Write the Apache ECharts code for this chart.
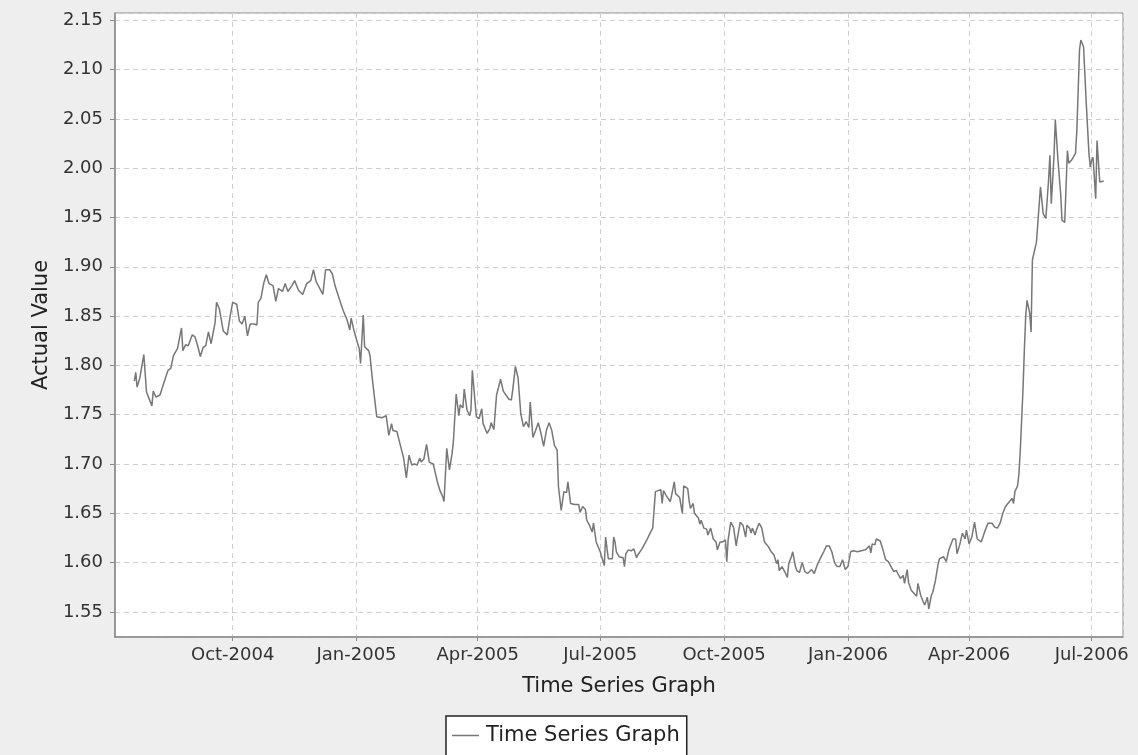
<!DOCTYPE html>
<html>
<head>
<meta charset="utf-8">
<title>Time Series Graph</title>
<script src="https://cdn.jsdelivr.net/npm/echarts@6/dist/echarts.min.js"></script>
<style>
  html, body { margin: 0; padding: 0; background: #eeeeee; }
  #main { width: 1138px; height: 755px; }
</style>
</head>
<body>
<div id="main"></div>
<script>
// values
var seriesName = 'Time Series Graph';

var dates = [
  '2004-07-20','2004-07-21','2004-07-22','2004-07-24','2004-07-27','2004-07-29','2004-08-02','2004-08-03','2004-08-05','2004-08-08',
  '2004-08-12','2004-08-14','2004-08-16','2004-08-18','2004-08-21','2004-08-24','2004-08-25','2004-08-27','2004-08-29','2004-09-01',
  '2004-09-03','2004-09-05','2004-09-07','2004-09-09','2004-09-11','2004-09-13','2004-09-15','2004-09-18','2004-09-19','2004-09-21',
  '2004-09-24','2004-09-27','2004-09-29','2004-10-01','2004-10-04','2004-10-06','2004-10-08','2004-10-10','2004-10-12','2004-10-14',
  '2004-10-17','2004-10-19','2004-10-20','2004-10-22','2004-10-23','2004-10-24','2004-10-26','2004-10-28','2004-10-31','2004-11-02',
  '2004-11-04','2004-11-07','2004-11-09','2004-11-11','2004-11-14','2004-11-16','2004-11-19','2004-11-22','2004-11-25','2004-11-28',
  '2004-11-30','2004-12-02','2004-12-07','2004-12-09','2004-12-12','2004-12-14','2004-12-16','2004-12-20','2004-12-22','2004-12-25',
  '2004-12-27','2004-12-28','2004-12-30','2005-01-01','2005-01-03','2005-01-04','2005-01-06','2005-01-07','2005-01-10','2005-01-11',
  '2005-01-13','2005-01-16','2005-01-20','2005-01-23','2005-01-25','2005-01-27','2005-01-28','2005-01-31','2005-02-02','2005-02-05',
  '2005-02-07','2005-02-09','2005-02-11','2005-02-13','2005-02-15','2005-02-17','2005-02-18','2005-02-20','2005-02-22','2005-02-24',
  '2005-02-27','2005-02-28','2005-03-02','2005-03-04','2005-03-06','2005-03-07','2005-03-09','2005-03-11','2005-03-13','2005-03-14',
  '2005-03-16','2005-03-18','2005-03-19','2005-03-21','2005-03-22','2005-03-24','2005-03-26','2005-03-27','2005-03-28','2005-03-31',
  '2005-04-02','2005-04-04','2005-04-05','2005-04-08','2005-04-10','2005-04-11','2005-04-13','2005-04-15','2005-04-18','2005-04-20',
  '2005-04-21','2005-04-24','2005-04-26','2005-04-27','2005-04-29','2005-05-01','2005-05-03','2005-05-05','2005-05-07','2005-05-09',
  '2005-05-10','2005-05-12','2005-05-14','2005-05-16','2005-05-18','2005-05-20','2005-05-22','2005-05-24','2005-05-26','2005-05-28',
  '2005-05-30','2005-05-31','2005-06-02','2005-06-04','2005-06-06','2005-06-07','2005-06-09','2005-06-12','2005-06-15','2005-06-16',
  '2005-06-18','2005-06-20','2005-06-21','2005-06-23','2005-06-25','2005-06-26','2005-06-28','2005-07-01','2005-07-04','2005-07-05',
  '2005-07-07','2005-07-10','2005-07-11','2005-07-12','2005-07-13','2005-07-15','2005-07-18','2005-07-19','2005-07-20','2005-07-22',
  '2005-07-24','2005-07-26','2005-07-28','2005-07-29','2005-08-01','2005-08-03','2005-08-05','2005-08-07','2005-08-09','2005-08-10',
  '2005-08-11','2005-08-13','2005-08-15','2005-08-16','2005-08-17','2005-08-19','2005-08-22','2005-08-23','2005-08-25','2005-08-26',
  '2005-08-29','2005-08-31','2005-09-01','2005-09-04','2005-09-05','2005-09-06','2005-09-08','2005-09-09','2005-09-12','2005-09-13',
  '2005-09-14','2005-09-16','2005-09-18','2005-09-19','2005-09-21','2005-09-23','2005-09-25','2005-09-26','2005-09-28','2005-09-30',
  '2005-10-02','2005-10-03','2005-10-04','2005-10-06','2005-10-08','2005-10-10','2005-10-11','2005-10-13','2005-10-15','2005-10-17',
  '2005-10-18','2005-10-20','2005-10-21','2005-10-22','2005-10-24','2005-10-25','2005-10-27','2005-10-29','2005-10-31','2005-11-03',
  '2005-11-05','2005-11-07','2005-11-09','2005-11-10','2005-11-11','2005-11-13','2005-11-15','2005-11-17','2005-11-18','2005-11-20',
  '2005-11-21','2005-11-23','2005-11-24','2005-11-26','2005-11-28','2005-11-30','2005-12-02','2005-12-03','2005-12-05','2005-12-07',
  '2005-12-09','2005-12-11','2005-12-14','2005-12-16','2005-12-18','2005-12-20','2005-12-22','2005-12-24','2005-12-26','2005-12-28',
  '2005-12-30','2006-01-01','2006-01-03','2006-01-05','2006-01-08','2006-01-11','2006-01-14','2006-01-15','2006-01-17','2006-01-18',
  '2006-01-19','2006-01-21','2006-01-22','2006-01-25','2006-01-27','2006-01-29','2006-01-31','2006-02-02','2006-02-04','2006-02-06',
  '2006-02-07','2006-02-09','2006-02-11','2006-02-12','2006-02-14','2006-02-15','2006-02-17','2006-02-19','2006-02-21','2006-02-22',
  '2006-02-24','2006-02-26','2006-02-27','2006-03-01','2006-03-02','2006-03-04','2006-03-05','2006-03-07','2006-03-09','2006-03-10',
  '2006-03-13','2006-03-15','2006-03-17','2006-03-20','2006-03-22','2006-03-23','2006-03-25','2006-03-27','2006-03-29','2006-03-30',
  '2006-04-01','2006-04-03','2006-04-05','2006-04-07','2006-04-10','2006-04-13','2006-04-15','2006-04-18','2006-04-20','2006-04-22',
  '2006-04-24','2006-04-26','2006-04-28','2006-05-01','2006-05-03','2006-05-04','2006-05-05','2006-05-07','2006-05-08','2006-05-09',
  '2006-05-11','2006-05-12','2006-05-13','2006-05-14','2006-05-16','2006-05-17','2006-05-18','2006-05-19','2006-05-21','2006-05-22',
  '2006-05-24','2006-05-26','2006-05-28','2006-05-30','2006-05-31','2006-06-01','2006-06-03','2006-06-04','2006-06-06','2006-06-08',
  '2006-06-09','2006-06-11','2006-06-13','2006-06-14','2006-06-16','2006-06-19','2006-06-20','2006-06-22','2006-06-23','2006-06-25',
  '2006-06-27','2006-06-29','2006-06-30','2006-07-01','2006-07-02','2006-07-03','2006-07-04','2006-07-05','2006-07-07','2006-07-08',
  '2006-07-10'
];

var values = [
  1.784,1.793,1.778,1.787,1.811,1.773,1.759,1.774,1.768,1.770,
  1.787,1.795,1.797,1.810,1.817,1.838,1.815,1.821,1.820,1.831,
  1.829,1.820,1.809,1.818,1.820,1.834,1.822,1.844,1.864,1.858,
  1.835,1.831,1.849,1.864,1.862,1.845,1.842,1.850,1.830,1.842,
  1.842,1.841,1.864,1.868,1.869,1.883,1.892,1.883,1.881,1.865,
  1.878,1.875,1.883,1.875,1.881,1.886,1.876,1.872,1.883,1.886,
  1.897,1.885,1.872,1.897,1.897,1.893,1.881,1.864,1.856,1.846,
  1.836,1.848,1.836,1.826,1.817,1.802,1.851,1.819,1.815,1.810,
  1.783,1.748,1.747,1.749,1.729,1.741,1.734,1.733,1.722,1.706,
  1.686,1.709,1.699,1.700,1.699,1.706,1.702,1.705,1.720,1.702,
  1.700,1.694,1.682,1.673,1.667,1.662,1.716,1.694,1.711,1.724,
  1.771,1.749,1.760,1.757,1.776,1.755,1.749,1.755,1.795,1.748,
  1.746,1.756,1.741,1.731,1.736,1.742,1.735,1.770,1.786,1.774,
  1.775,1.766,1.765,1.775,1.799,1.787,1.751,1.738,1.743,1.737,
  1.763,1.727,1.734,1.742,1.731,1.718,1.734,1.742,1.734,1.719,
  1.714,1.677,1.653,1.672,1.671,1.682,1.660,1.659,1.659,1.651,
  1.657,1.654,1.643,1.638,1.631,1.640,1.621,1.611,1.597,1.626,
  1.604,1.604,1.626,1.621,1.611,1.606,1.605,1.596,1.609,1.613,
  1.612,1.614,1.605,1.608,1.614,1.619,1.624,1.630,1.635,1.633,
  1.672,1.673,1.674,1.660,1.673,1.668,1.662,1.668,1.682,1.670,
  1.666,1.650,1.678,1.675,1.663,1.655,1.660,1.650,1.645,1.639,
  1.643,1.635,1.634,1.628,1.635,1.624,1.621,1.613,1.621,1.621,
  1.623,1.601,1.623,1.641,1.636,1.617,1.626,1.641,1.638,1.626,
  1.638,1.635,1.630,1.635,1.628,1.633,1.640,1.635,1.621,1.616,
  1.611,1.608,1.599,1.603,1.592,1.596,1.591,1.585,1.599,1.606,
  1.611,1.596,1.592,1.590,1.600,1.591,1.589,1.589,1.593,1.589,
  1.597,1.603,1.611,1.617,1.617,1.611,1.600,1.596,1.596,1.603,
  1.593,1.596,1.611,1.612,1.611,1.612,1.613,1.613,1.617,1.610,
  1.619,1.618,1.624,1.622,1.613,1.603,1.601,1.596,1.591,1.592,
  1.589,1.584,1.587,1.579,1.593,1.580,1.572,1.569,1.566,1.579,
  1.567,1.560,1.557,1.565,1.553,1.567,1.570,1.582,1.599,1.604,
  1.606,1.601,1.613,1.624,1.624,1.609,1.618,1.630,1.624,1.633,
  1.619,1.626,1.641,1.624,1.621,1.633,1.640,1.640,1.636,1.635,
  1.640,1.650,1.657,1.662,1.665,1.660,1.672,1.678,1.690,1.714,
  1.775,1.815,1.849,1.866,1.853,1.834,1.907,1.913,1.925,1.944,
  1.981,1.954,1.949,1.988,2.013,1.964,2.011,2.049,2.008,1.974,
  1.947,1.945,2.018,2.005,2.008,2.015,2.038,2.120,2.130,2.123,
  2.066,2.015,2.001,2.008,2.011,1.991,1.969,2.028,1.986,1.987,
  1.987
];

var monthNames = ['Jan','Feb','Mar','Apr','May','Jun','Jul','Aug','Sep','Oct','Nov','Dec'];

var points = dates.map(function (d, i) { return [d, values[i]]; });

var DAY = 24 * 3600 * 1000;
var chart = echarts.init(document.getElementById('main'));

var option = {
  animation: false,
  backgroundColor: '#eeeeee',
  textStyle: { fontFamily: 'DejaVu Sans' },
  grid: {
    left: 115,
    right: 15,
    top: 13,
    bottom: 118,
    show: true,
    backgroundColor: '#ffffff',
    borderColor: '#8a8a8a',
    borderWidth: 1
  },
  legend: {
    left: 446,
    top: 716,
    padding: [9, 7, 10, 6],
    backgroundColor: '#ffffff',
    borderColor: '#222222',
    borderWidth: 1.5,
    borderRadius: 0,
    icon: 'rect',
    itemWidth: 27,
    itemHeight: 1.5,
    itemGap: 10,
    textStyle: { fontSize: 21, color: '#222222', fontFamily: 'DejaVu Sans', padding: [0, 0, 0, 2] },
    data: [seriesName]
  },
  xAxis: {
    type: 'time',
    min: new Date(2004, 6, 5, 14, 24).getTime(),
    max: new Date(2006, 6, 24, 7, 0).getTime(),
    splitNumber: 8,
    minInterval: 88 * DAY,
    maxInterval: 100 * DAY,
    name: 'Time Series Graph',
    nameLocation: 'middle',
    nameGap: 39,
    nameTextStyle: { fontSize: 21, color: '#222222', fontFamily: 'DejaVu Sans' },
    axisLine: { show: true, lineStyle: { color: '#8a8a8a', width: 1.5 } },
    axisTick: { show: true, length: 4, lineStyle: { color: '#8a8a8a' } },
    axisLabel: {
      fontSize: 18,
      color: '#333333',
      margin: 9,
      showMinLabel: false,
      showMaxLabel: false,
      formatter: function (v) {
        var d = new Date(v);
        return monthNames[d.getMonth()] + '-' + d.getFullYear();
      }
    },
    splitLine: { show: true, lineStyle: { color: '#cfcfcf', type: [5, 4], width: 1 } }
  },
  yAxis: {
    type: 'value',
    min: 1.5246,
    max: 2.1574,
    splitNumber: 12,
    name: 'Actual Value',
    nameLocation: 'middle',
    nameGap: 62,
    nameTextStyle: { fontSize: 21, color: '#222222', fontFamily: 'DejaVu Sans' },
    axisLine: { show: true, lineStyle: { color: '#8a8a8a', width: 1.5 } },
    axisTick: { show: true, length: 5, lineStyle: { color: '#8a8a8a' } },
    axisLabel: {
      fontSize: 18,
      color: '#333333',
      margin: 12,
      showMinLabel: false,
      showMaxLabel: false,
      formatter: function (v) { return v.toFixed(2); }
    },
    splitLine: { show: true, lineStyle: { color: '#cfcfcf', type: [5, 4], width: 1 } }
  },
  series: [
    {
      name: seriesName,
      type: 'line',
      data: points,
      showSymbol: false,
      symbol: 'none',
      color: '#777777',
      lineStyle: { color: '#777777', width: 1.5 }
    }
  ]
};

chart.setOption(option);
</script>
</body>
</html>
